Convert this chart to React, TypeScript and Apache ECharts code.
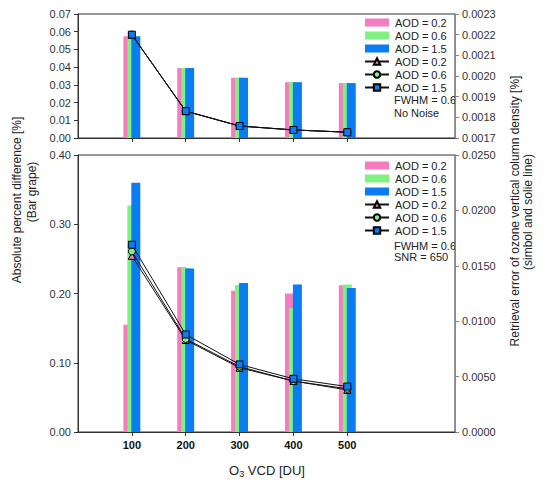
import React, { useEffect, useRef } from "react";
import * as echarts from "echarts";

const o3Vcd = [100, 200, 300, 400, 500];

const topBarAod02 = [0.0575, 0.0395, 0.034, 0.0315, 0.031];
const topBarAod06 = [0.0575, 0.0395, 0.034, 0.0315, 0.031];
const topBarAod15 = [0.0575, 0.0395, 0.034, 0.0315, 0.031];

const topLineAod02 = [0.0022, 0.00183, 0.001758, 0.001739, 0.001728];
const topLineAod06 = [0.0022, 0.00183, 0.001758, 0.001739, 0.001728];
const topLineAod15 = [0.0022, 0.00183, 0.001758, 0.001739, 0.001728];

const botBarAod02 = [0.155, 0.238, 0.204, 0.2, 0.212];
const botBarAod06 = [0.327, 0.237, 0.212, 0.179, 0.213];
const botBarAod15 = [0.36, 0.236, 0.215, 0.213, 0.208];

const botLineAod02 = [0.0159, 0.0083, 0.0058, 0.0046, 0.0038];
const botLineAod06 = [0.0163, 0.0084, 0.0059, 0.0046, 0.0039];
const botLineAod15 = [0.0169, 0.0088, 0.0061, 0.0048, 0.0041];

const aodNames = ["AOD = 0.2", "AOD = 0.6", "AOD = 1.5"];
const LINE_SUFFIX = " (line)";

const PINK = "#F57CBE";
const GREEN = "#80F080";
const BLUE = "#0B7DF2";
const colors = [PINK, GREEN, BLUE];
const symbols = ["triangle", "circle", "rect"];
const FONT = "'Liberation Sans', Arial, sans-serif";

const zip = (xs: number[], ys: number[]) => xs.map((x, i) => [x, ys[i]]);

export default function App() {
  const ref = useRef<HTMLDivElement>(null);
  useEffect(() => {
    if (!ref.current) return;
    const chart = echarts.init(ref.current, null, { renderer: "svg" });

    const xAxisBase = (gridIndex: number, showLabels: boolean) => ({
      type: "value",
      gridIndex,
      min: 0,
      max: 700,
      interval: 100,
      splitLine: { show: false },
      axisLine: { show: true, lineStyle: { color: "#333", width: 1 } },
      axisTick: {
        show: true,
        customValues: o3Vcd,
        length: 4,
        lineStyle: { color: "#333" },
      },
      axisLabel: {
        show: showLabels,
        customValues: o3Vcd,
        fontFamily: FONT,
        fontSize: 11,
        fontWeight: "bold",
        color: "#111",
        margin: 7,
      },
    });

    const yAxis = (
      gridIndex: number,
      position: string,
      min: number,
      max: number,
      interval: number,
      digits: number,
      lineColor: string
    ) => ({
      type: "value",
      gridIndex,
      position,
      min,
      max,
      interval,
      splitLine: { show: false },
      axisLine: { show: true, onZero: false, lineStyle: { color: lineColor, width: 1 } },
      axisTick: { show: true, length: 4, lineStyle: { color: lineColor } },
      axisLabel: {
        fontFamily: FONT,
        fontSize: 11,
        color: "#333",
        margin: 7,
        formatter: (v: number) => v.toFixed(digits),
      },
    });

    const barSeries = (
      name: string,
      color: string,
      xi: number,
      yi: number,
      vals: number[]
    ) => ({
      type: "bar",
      name,
      xAxisIndex: xi,
      yAxisIndex: yi,
      barWidth: 9,
      barGap: "-56%",
      itemStyle: { color },
      data: zip(o3Vcd, vals),
    });

    const lineSeries = (
      idx: number,
      xi: number,
      yi: number,
      vals: number[]
    ) => ({
      type: "line",
      name: aodNames[idx] + LINE_SUFFIX,
      xAxisIndex: xi,
      yAxisIndex: yi,
      symbol: symbols[idx],
      symbolSize: idx === 1 ? 7 : 7,
      lineStyle: { color: "#111", width: 1 },
      itemStyle: { color: colors[idx], borderColor: "#000", borderWidth: 1 },
      data: zip(o3Vcd, vals),
    });

    const legendData = [
      ...aodNames.map((n) => ({ name: n, icon: "rect" })),
      ...aodNames.map((n) => ({ name: n + LINE_SUFFIX })),
    ];

    const legend = (top: number) => ({
      orient: "vertical",
      left: 364,
      top,
      padding: 0,
      itemWidth: 24,
      itemHeight: 8,
      itemGap: 2,
      selectedMode: false,
      data: legendData,
      formatter: (name: string) => name.replace(LINE_SUFFIX, ""),
      textStyle: { fontFamily: FONT, fontSize: 11, color: "#222", padding: [0, 0, 0, 1] },
    });

    const textEl = (
      text: string,
      x: number,
      y: number,
      size: number,
      rotation = 0,
      align = "center"
    ) => ({
      type: "text",
      x,
      y,
      rotation,
      style: {
        text,
        fontFamily: FONT,
        fontSize: size,
        fill: "#222",
        align,
        verticalAlign: "middle",
      },
    });

    chart.setOption({
      animation: false,
      backgroundColor: "#fff",
      grid: [
        { left: 78, top: 14, width: 377, height: 124, show: true, borderColor: "#333", borderWidth: 1, backgroundColor: "transparent" },
        { left: 78, top: 155, width: 377, height: 277, show: true, borderColor: "#333", borderWidth: 1, backgroundColor: "transparent" },
      ],
      xAxis: [xAxisBase(0, false), xAxisBase(1, true)],
      yAxis: [
        yAxis(0, "left", 0, 0.07, 0.01, 2, "#333"),
        yAxis(0, "right", 0.0017, 0.0023, 0.0001, 4, "#888"),
        yAxis(1, "left", 0, 0.4, 0.1, 2, "#333"),
        yAxis(1, "right", 0, 0.025, 0.005, 4, "#888"),
      ],
      legend: [legend(17), legend(160)],
      series: [
        barSeries(aodNames[0], PINK, 0, 0, topBarAod02),
        barSeries(aodNames[1], GREEN, 0, 0, topBarAod06),
        barSeries(aodNames[2], BLUE, 0, 0, topBarAod15),
        lineSeries(0, 0, 1, topLineAod02),
        lineSeries(1, 0, 1, topLineAod06),
        lineSeries(2, 0, 1, topLineAod15),
        barSeries(aodNames[0], PINK, 1, 2, botBarAod02),
        barSeries(aodNames[1], GREEN, 1, 2, botBarAod06),
        barSeries(aodNames[2], BLUE, 1, 2, botBarAod15),
        lineSeries(0, 1, 3, botLineAod02),
        lineSeries(1, 1, 3, botLineAod06),
        lineSeries(2, 1, 3, botLineAod15),
      ],
      graphic: [
        textEl("FWHM = 0.6", 394, 100, 11, 0, "left"),
        textEl("No Noise", 394, 112.5, 11, 0, "left"),
        textEl("FWHM = 0.6", 394, 246, 11, 0, "left"),
        textEl("SNR = 650", 394, 257, 11, 0, "left"),
        textEl("Absolute percent difference [%]", 17, 200, 12, Math.PI / 2),
        textEl("(Bar grape)", 32, 192, 12, Math.PI / 2),
        textEl("Retrieval error of ozone vertical column density [%]", 515, 211, 12, Math.PI / 2),
        textEl("(simbol and solie line)", 528, 212, 12, Math.PI / 2),
        {
          type: "text",
          x: 267,
          y: 470,
          style: {
            text: "O{s|3} VCD [DU]",
            fontFamily: FONT,
            fontSize: 13,
            fill: "#222",
            align: "center",
            verticalAlign: "middle",
            rich: {
              s: { fontFamily: FONT, fontSize: 9, fill: "#222", padding: [8, 0, 0, 0] },
            },
          },
        },
      ],
    });
    return () => chart.dispose();
  }, []);
  return (
    <div
      ref={ref}
      style={{ position: "fixed", left: 0, top: 0, width: 547, height: 487 }}
    />
  );
}
